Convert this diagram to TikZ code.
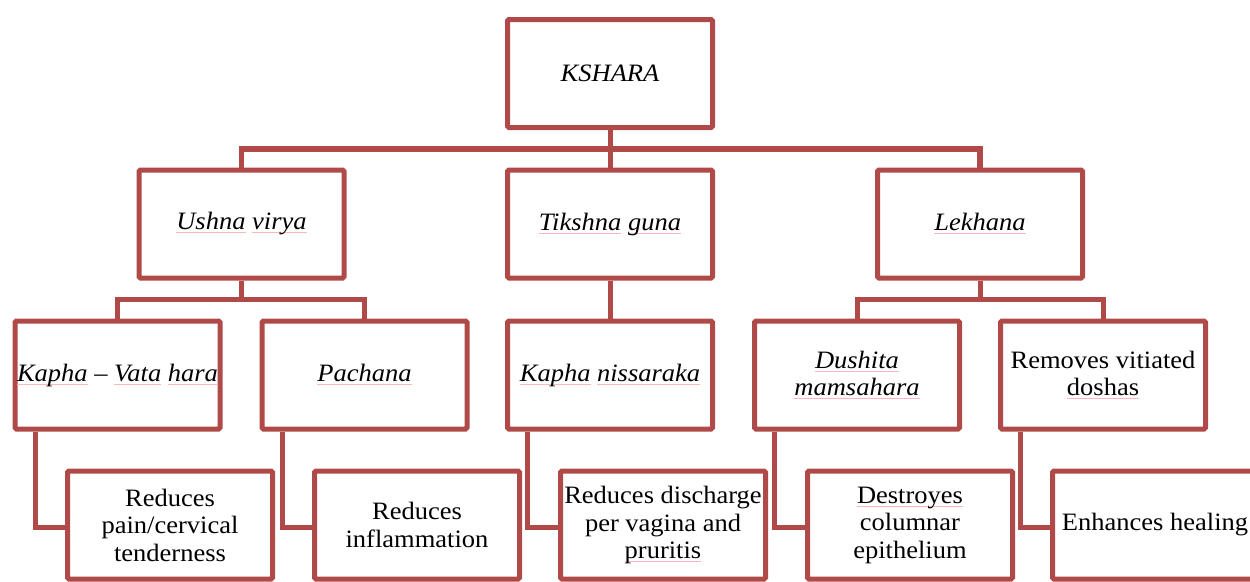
\documentclass[tikz,border=0pt]{standalone}
\usepackage{fontspec}
\setmainfont{Liberation Serif}[FakeStretch=1.06]
\usetikzlibrary{calc}
\definecolor{kred}{RGB}{176,74,72}
\definecolor{spk}{RGB}{250,185,185}
\newcommand\spl[1]{\setbox0\hbox{#1}\leavevmode\rlap{\raisebox{-3.5pt}{\begingroup\color{spk}\vrule width \wd0 height 1pt depth 0pt\endgroup}}\begingroup\color{black}#1\endgroup}
\begin{document}
\begin{tikzpicture}[x=1pt,y=-1pt,
  kbox/.style={draw=kred,line width=5pt,rounded corners=1.5pt,minimum width=205pt,minimum height=108pt,
    align=center,inner sep=0pt,text=black,font=\fontsize{25}{27.5}\selectfont},
  conn/.style={draw=kred,line width=5pt}]
\useasboundingbox (0,0) rectangle (1250,581);
\clip (0,0) rectangle (1250,581);
% level 1
\node[kbox] (K) at (610,73.5) {\itshape KSHARA};
% level 2
\node[kbox] (U) at (241.5,224) {\itshape\spl{Ushna} \spl{virya}};
\node[kbox] (T) at (610,224) {\itshape\spl{Tikshna} \spl{guna}};
\node[kbox] (L) at (980,224) {\itshape\spl{Lekhana}};
% level 3
\node[kbox] (KV) at (117.5,375) {\itshape\spl{Kapha} -- \spl{Vata} \spl{hara}};
\node[kbox] (P) at (364.5,375) {\itshape\spl{Pachana}};
\node[kbox] (KN) at (610,375) {\itshape\spl{Kapha} \spl{nissaraka}};
\node[kbox] (D) at (857,375) {\itshape\spl{Dushita}\\\itshape\spl{mamsahara}};
\node[kbox] (R) at (1103,375) {Removes vitiated\\\spl{doshas}};
% level 4
\node[kbox] (A) at (170,525) {Reduces\\pain/cervical\\tenderness};
\node[kbox] (B) at (417,525) {Reduces\\inflammation};
\node[kbox] (C) at (663,525) {Reduces discharge\\per vagina and\\\spl{pruritis}};
\node[kbox] (E) at (910,525) {\spl{Destroyes}\\columnar\\epithelium};
\node[kbox] (F) at (1155,525) {Enhances healing};
% connectors
\draw[conn,line width=5.5pt] (U.north) |- ($(K.south)!0.5!(T.north)$) -| (L.north);
\draw[conn] (K.south) -- (T.north);
\draw[conn] (KV.north) |- ($(U.south)!0.5!(KV.north)$) -| (P.north);
\draw[conn] (U.south) -- ($(U.south)!0.5!(U.south|-KV.north)$);
\draw[conn] (T.south) -- (KN.north);
\draw[conn] (D.north) |- ($(L.south)!0.5!(L.south|-D.north)$) -| (R.north);
\draw[conn] (L.south) -- ($(L.south)!0.5!(L.south|-D.north)$);
\draw[conn] ([xshift=-82.5pt]KV.south) |- ([yshift=-2pt]A.west);
\draw[conn] ([xshift=-82.5pt]P.south) |- ([yshift=-2pt]B.west);
\draw[conn] ([xshift=-82.5pt]KN.south) |- ([yshift=-2pt]C.west);
\draw[conn] ([xshift=-82.5pt]D.south) |- ([yshift=-2pt]E.west);
\draw[conn] ([xshift=-82.5pt]R.south) |- ([yshift=-2pt]F.west);
\end{tikzpicture}
\end{document}
